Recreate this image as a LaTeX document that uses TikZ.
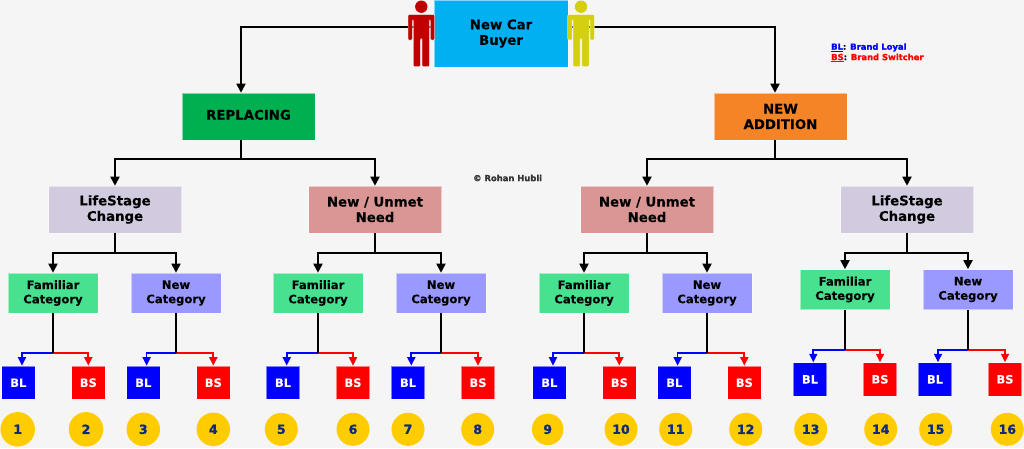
\documentclass[tikz,border=0pt]{standalone}
\usepackage{fontspec}
\setmainfont[BoldFeatures={FakeBold=1.3}]{DejaVu Sans}
\usetikzlibrary{arrows.meta}
\definecolor{bgc}{HTML}{F5F5F5}
\definecolor{cRoot}{HTML}{00B0F0}
\definecolor{cRep}{HTML}{00B050}
\definecolor{cAdd}{HTML}{F58426}
\definecolor{cLife}{HTML}{D2CBE0}
\definecolor{cNeed}{HTML}{DA9694}
\definecolor{cFam}{HTML}{47E190}
\definecolor{cNew}{HTML}{9999FF}
\definecolor{cBL}{HTML}{0000FF}
\definecolor{cBS}{HTML}{FF0000}
\definecolor{cNum}{HTML}{FFCC00}
\definecolor{cNumT}{HTML}{0B2A80}
\definecolor{cRed}{HTML}{C00000}
\definecolor{cYel}{HTML}{D4D010}
\tikzset{
  x=1pt,y=1pt,
  base/.style={rectangle,inner sep=0pt,align=center,font=\bfseries\fontsize{13.3}{15.5}\selectfont,draw=white,draw opacity=.5,line width=.6pt},
  bigbox/.style={base,minimum width=133pt,minimum height=47pt},
  catbox/.style={base,minimum width=90pt,minimum height=40pt,font=\bfseries\fontsize{11.6}{14.3}\selectfont},
  sq/.style={base,minimum width=33.5pt,minimum height=33.5pt,text=white,font=\bfseries\fontsize{11.5}{12}\selectfont},
  numc/.style={circle,inner sep=0pt,minimum size=33.5pt,fill=cNum,text=cNumT,font=\bfseries\fontsize{12.5}{13}\selectfont},
  conn/.style={draw=black,line width=1.8pt,-{Triangle[length=9pt,width=9pt]}},
  plain/.style={draw=black,line width=1.8pt},
  blc/.style={draw=cBL,line width=1.7pt,-{Triangle[length=8.5pt,width=8pt]}},
  bsc/.style={draw=cBS,line width=1.7pt,-{Triangle[length=8.5pt,width=8pt]}},
}
\newcommand{\drawperson}[2]{%
  \begin{scope}[shift={(#1,0)}]
    \fill[#2,draw=white,draw opacity=.6,line width=.5pt,rounded corners=1.2pt]
      (-13.3,-14.5) -- (13.3,-14.5) -- (13.3,-40) -- (9,-40) -- (9,-20) -- (8,-20)
      -- (8,-66.7) -- (0.9,-66.7) -- (0.9,-38.5) -- (-0.9,-38.5) -- (-0.9,-66.7)
      -- (-8,-66.7) -- (-8,-20) -- (-9,-20) -- (-9,-40) -- (-13.3,-40) -- cycle;
    \fill[#2] (0,-6.7) circle (6.2);
  \end{scope}}
\begin{document}
\begin{tikzpicture}
\useasboundingbox (0,0) rectangle (1024,-448);
\fill[bgc] (0,0) rectangle (1024,-448);

\node[bigbox,fill=cRoot,minimum width=134pt,minimum height=67pt] (root) at (501,-33.5) {New Car\\Buyer};
\node[bigbox,fill=cRep,text depth=3.5pt] (rep) at (248.5,-116.5) {REPLACING};
\node[bigbox,fill=cAdd] (add) at (780.5,-116.5) {NEW\\ADDITION};

\node[bigbox,fill=cLife] (lc1) at (115,-209.5) {LifeStage\\Change};
\node[bigbox,fill=cNeed] (un1) at (375,-209.5) {New / Unmet\\Need};
\node[bigbox,fill=cNeed] (un2) at (647,-209.5) {New / Unmet\\Need};
\node[bigbox,fill=cLife] (lc2) at (907,-209.5) {LifeStage\\Change};

\node[catbox,fill=cFam] (f1) at (53,-293) {Familiar\\Category};
\node[catbox,fill=cNew] (n1) at (176,-293) {New\\Category};
\node[catbox,fill=cFam] (f2) at (318,-293) {Familiar\\Category};
\node[catbox,fill=cNew] (n2) at (441,-293) {New\\Category};
\node[catbox,fill=cFam] (f3) at (584,-293) {Familiar\\Category};
\node[catbox,fill=cNew] (n3) at (707,-293) {New\\Category};
\node[catbox,fill=cFam] (f4) at (845,-289.5) {Familiar\\Category};
\node[catbox,fill=cNew] (n4) at (968,-289.5) {New\\Category};

\foreach \nm/\xa/\xb/\yy in {f1/18.3/88.3/-382.7, n1/143.3/213.3/-382.7, f2/283/353/-382.7, n2/408/478/-382.7,
                             f3/549.3/619.3/-382.7, n3/674.3/744.3/-382.7, f4/810/880/-379.3, n4/935/1005/-379.3}{
  \node[sq,fill=cBL] (bl\nm) at (\xa,\yy) {BL};
  \node[sq,fill=cBS] (bs\nm) at (\xb,\yy) {BS};
}

\foreach \i/\xx/\dd in {1/17.7/34.5,2/86/34.5,3/143.3/33.5,4/213.3/33.5,5/281.3/33,6/353/33,7/408/33,8/477.7/33,9/547.7/31.5,10/621/33,11/675.7/33,12/745.7/33,13/810.7/33,14/880.7/33,15/935.7/33,16/1007.3/33}{
  \node[numc,minimum size=\dd pt] (c\i) at (\xx,-429.3) {\i};
}

% top level connectors
\draw[conn] ([yshift=6.5pt]root.west) -| ([xshift=-7.5pt]rep.north);
\draw[conn] ([yshift=6.5pt]root.east) -| ([xshift=-5.5pt]add.north);

% second level
\coordinate (j1) at (241,-159);
\coordinate (j2) at (775,-159);
\draw[plain] (rep.south -| j1) -- (j1);
\draw[plain] (add.south -| j2) -- (j2);
\draw[conn] (j1) -| (lc1.north);
\draw[conn] (j1) -| (un1.north);
\draw[conn] (j2) -| (un2.north);
\draw[conn] (j2) -| (lc2.north);

% third level
\foreach \p/\a/\b in {lc1/f1/n1,un1/f2/n2,un2/f3/n3,lc2/f4/n4}{
  \coordinate (t\p) at ([yshift=-20pt]\p.south);
  \draw[plain] (\p.south) -- (t\p);
  \draw[conn] (t\p) -| (\a.north);
  \draw[conn] (t\p) -| (\b.north);
}

% brand level
\foreach \nm/\blx/\drop in {f1/3.7/39.7,n1/3.3/39.7,f2/3.7/39.7,n2/3.3/39.7,f3/3.7/39.7,n3/3.3/39.7,f4/3.3/40.2,n4/3/40.2}{
  \coordinate (k\nm) at ([yshift=-\drop pt]\nm.south);
  \draw[blc] (k\nm) -| ([xshift=\blx pt]bl\nm.north);
  \draw[bsc] (k\nm) -| (bs\nm.north);
  \draw[plain] (\nm.south) -- (k\nm);
}

\drawperson{421.3}{cRed}
\drawperson{581}{cYel}

\node[anchor=west,inner sep=0pt,font=\bfseries\fontsize{8.4}{9}\selectfont,text=cBL] (lg1) at (831,-47.5) {\underline{BL}\textcolor{black}{:} Brand Loyal};
\node[anchor=west,inner sep=0pt,font=\bfseries\fontsize{8.4}{9}\selectfont,text=cBS] (lg2) at (831,-58) {\underline{BS}\textcolor{black}{:} Brand Switcher};
\node[anchor=west,inner sep=0pt,font=\bfseries\fontsize{8.4}{9}\selectfont,text=black!80] (cr) at (473,-178) {© Rohan Hubli};
\end{tikzpicture}
\end{document}
